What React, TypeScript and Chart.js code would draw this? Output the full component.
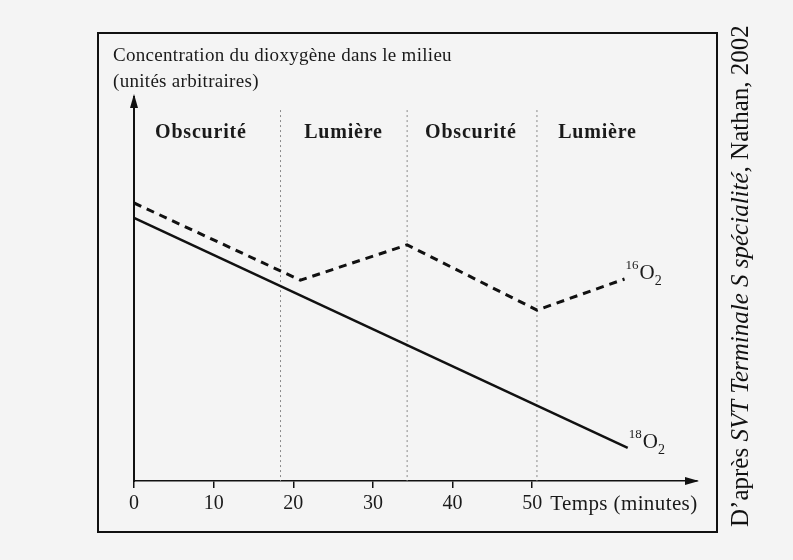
import React, { useEffect, useRef } from "react";
import { Chart, registerables } from "chart.js";

Chart.register(...registerables);

// ---- data ----
const timeTicks = [0, 10, 20, 30, 40, 50];
const o18Times = [0, 62];
const o18Values = [68.5, 8.6];
const o16Times = [0, 20.9, 34.3, 50.6, 61.6];
const o16Values = [72.4, 52.3, 61.5, 44.5, 52.6];
const phaseBounds = [18.4, 34.3, 50.6];
const phaseLabels = ["Obscurité", "Lumière", "Obscurité", "Lumière"];
const phaseCenters = [8.4, 26.3, 42.3, 58.2];
const titleLines = ["Concentration du dioxygène dans le milieu", "(unités arbitraires)"];
const xAxisLabel = "Temps (minutes)";
const seriesLabels = [
  { sup: "16", main: "O", sub: "2" },
  { sup: "18", main: "O", sub: "2" },
];
const citation = [
  { text: "D\u2019après ", italic: false },
  { text: "SVT Terminale S spécialité", italic: true },
  { text: ", Nathan, 2002", italic: false },
];

const SERIF = "'Liberation Serif', 'DejaVu Serif', serif";

const decorPlugin = {
  id: "decor",
  beforeDatasetsDraw(chart: any) {
    const { ctx, chartArea, scales } = chart;
    const xs = scales.x;
    const ys = scales.y;
    ctx.save();
    ctx.strokeStyle = "#8a8a8a";
    ctx.lineWidth = 1;
    ctx.setLineDash([2, 3]);
    phaseBounds.forEach((b) => {
      const px = xs.getPixelForValue(b);
      ctx.beginPath();
      ctx.moveTo(px, ys.getPixelForValue(96.6));
      ctx.lineTo(px, chartArea.bottom);
      ctx.stroke();
    });
    ctx.restore();
  },
  afterDraw(chart: any) {
    const { ctx, chartArea, scales } = chart;
    const xs = scales.x;
    const ys = scales.y;
    ctx.save();
    // frame
    ctx.strokeStyle = "#111";
    ctx.lineWidth = 2;
    ctx.strokeRect(98, 33, 619, 499);

    // arrows
    ctx.fillStyle = "#111";
    const ax = chartArea.left;
    ctx.beginPath();
    ctx.moveTo(ax, chartArea.top - 3);
    ctx.lineTo(ax - 4, chartArea.top + 11);
    ctx.lineTo(ax + 4, chartArea.top + 11);
    ctx.closePath();
    ctx.fill();
    const ay = chartArea.bottom;
    ctx.beginPath();
    ctx.moveTo(chartArea.right + 2, ay);
    ctx.lineTo(chartArea.right - 12, ay - 4);
    ctx.lineTo(chartArea.right - 12, ay + 4);
    ctx.closePath();
    ctx.fill();

    // title
    ctx.fillStyle = "#1a1a1a";
    ctx.font = `19px ${SERIF}`;
    (ctx as any).letterSpacing = "0.3px";
    ctx.textAlign = "left";
    ctx.textBaseline = "alphabetic";
    ctx.fillText(titleLines[0], 113, 61);
    ctx.fillText(titleLines[1], 113, 87);

    // x-axis label
    ctx.font = `21px ${SERIF}`;
    (ctx as any).letterSpacing = "0.4px";
    ctx.fillText(xAxisLabel, xs.getPixelForValue(50) + 18, 510);

    // phase labels
    ctx.font = `bold 20px ${SERIF}`;
    (ctx as any).letterSpacing = "0.8px";
    ctx.textAlign = "center";
    ctx.textBaseline = "middle";
    phaseLabels.forEach((l, i) => {
      ctx.fillText(l, xs.getPixelForValue(phaseCenters[i]), 133);
    });
    (ctx as any).letterSpacing = "0px";

    // series labels
    const ends = [
      { x: o16Times[o16Times.length - 1], y: o16Values[o16Values.length - 1] },
      { x: o18Times[o18Times.length - 1], y: o18Values[o18Values.length - 1] },
    ];
    ctx.textAlign = "left";
    ctx.textBaseline = "alphabetic";
    seriesLabels.forEach((s, i) => {
      const px = xs.getPixelForValue(ends[i].x) + 1;
      const py = ys.getPixelForValue(ends[i].y);
      ctx.font = `13px ${SERIF}`;
      ctx.fillText(s.sup, px, py - 10);
      const w1 = ctx.measureText(s.sup).width;
      ctx.font = `21px ${SERIF}`;
      ctx.fillText(s.main, px + w1 + 1, py);
      const w2 = ctx.measureText(s.main).width;
      ctx.font = `14px ${SERIF}`;
      ctx.fillText(s.sub, px + w1 + 1 + w2, py + 6);
    });

    // citation (rotated)
    ctx.translate(748, 527);
    ctx.rotate(-Math.PI / 2);
    ctx.fillStyle = "#111";
    let cx = 0;
    citation.forEach((c) => {
      ctx.font = `${c.italic ? "italic " : ""}25px ${SERIF}`;
      ctx.fillText(c.text, cx, 0);
      cx += ctx.measureText(c.text).width;
    });
    ctx.restore();
  },
};

export default function App() {
  const ref = useRef<HTMLCanvasElement | null>(null);
  useEffect(() => {
    if (!ref.current) return;
    const chart = new Chart(ref.current, {
      type: "line",
      data: {
        datasets: [
          {
            label: "16O2",
            data: o16Times.map((t, i) => ({ x: t, y: o16Values[i] })),
            borderColor: "#111",
            borderWidth: 3,
            borderDash: [8, 6],
            pointRadius: 0,
            fill: false,
            tension: 0,
          },
          {
            label: "18O2",
            data: o18Times.map((t, i) => ({ x: t, y: o18Values[i] })),
            borderColor: "#111",
            borderWidth: 2.5,
            pointRadius: 0,
            fill: false,
            tension: 0,
          },
        ],
      },
      options: {
        responsive: false,
        animation: false,
        events: [],
        layout: { padding: { left: 134, right: 96, top: 97, bottom: 34 } },
        plugins: { legend: { display: false }, tooltip: { enabled: false } },
        scales: {
          x: {
            type: "linear",
            min: 0,
            max: 70.7,
            afterFit: (s: any) => {
              s.height = 45;
            },
            afterBuildTicks: (s: any) => {
              s.ticks = timeTicks.map((v) => ({ value: v }));
            },
            border: { display: true, color: "#111", width: 1.5 },
            grid: { display: true, drawOnChartArea: false, drawTicks: true, tickLength: 7, color: "#111", lineWidth: 1.5 },
            ticks: {
              color: "#1a1a1a",
              font: { family: SERIF, size: 20 },
              padding: 4,
              maxRotation: 0,
              autoSkip: false,
            },
          },
          y: {
            type: "linear",
            min: 0,
            max: 100,
            afterFit: (s: any) => {
              s.width = 0;
            },
            border: { display: true, color: "#111", width: 2 },
            grid: { display: false },
            ticks: { display: false },
          },
        },
      },
      plugins: [decorPlugin],
    });
    return () => chart.destroy();
  }, []);
  return (
    <div style={{ position: "fixed", left: 0, top: 0, width: 793, height: 560, background: "#f4f4f4" }}>
      <canvas ref={ref} width={793} height={560} style={{ display: "block" }} />
    </div>
  );
}
